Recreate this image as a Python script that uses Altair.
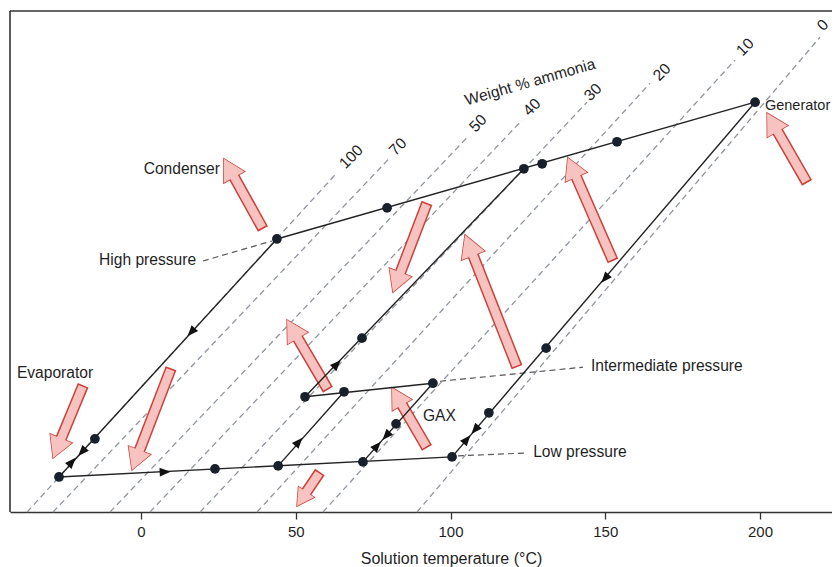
import math
import altair as alt
import pandas as pd

# ---------------- plot geometry (scales) ----------------
T_MIN, T_MAX = -42.33, 223.26      # solution temperature, deg C
U_MIN, U_MAX = 0.0, 100.0          # relative pressure level (no scale shown)
W, H = 822, 501
PXT = W / (T_MAX - T_MIN)
PXU = H / (U_MAX - U_MIN)

# ---------------- data ----------------
# iso-concentration lines (weight % ammonia): bottom start (u=0) -> top end
conc_labels = ["100", "70", "50", "40", "30", "20", "10", "0"]
conc_t0 = [-36.8, -28.4, -10.0, 2.9, 19.1, 37.5, 58.8, 89.2]
conc_u0 = [0, 0, 0, 0, 0, 0, 0, 0]
conc_t1 = [63.3, 79.8, 105.3, 123.1, 144.1, 164.5, 191.9, 219.4]
conc_u1 = [67.7, 70.3, 74.7, 78.2, 81.8, 85.6, 90.2, 94.8]
conc_lab_t = [67.9, 83.0, 108.9, 126.3, 146.0, 168.3, 195.2, 220.3]
conc_lab_u = [70.9, 72.9, 77.6, 80.8, 83.8, 87.8, 92.8, 97.2]

# cycle segments (start -> end)
seg_names = ["high", "refrig", "low", "inter", "abs1", "strong", "mid", "weak"]
seg_t0 = [43.9, 43.9, -26.5, 53.0, 44.3, 53.0, 71.7, 198.4]
seg_u0 = [54.5, 54.5, 7.0, 23.0, 9.2, 23.0, 10.0, 81.8]
seg_t1 = [198.4, -26.5, 100.5, 94.3, 65.6, 123.7, 94.3, 100.5]
seg_u1 = [81.8, 7.0, 11.0, 25.7, 24.0, 68.5, 25.7, 11.0]

# state points
pts_t = [43.9, 79.5, 123.7, 129.6, 153.8, 198.4, -14.9, -26.5, 23.9, 44.3,
         71.7, 100.5, 53.0, 65.6, 94.3, 71.4, 82.4, 130.9, 112.4]
pts_u = [54.5, 60.7, 68.5, 69.5, 73.9, 81.8, 14.6, 7.0, 8.6, 9.2,
         10.0, 11.0, 23.0, 24.0, 25.7, 34.7, 17.6, 32.7, 19.8]

# flow-direction markers: position, segment, +1 along segment / -1 against
dir_t = [16.2, -19.1, -22.3, 7.8, 51.0, 63.3, 79.2, 76.3, 149.9, 107.9, 105.3]
dir_u = [35.9, 12.0, 10.0, 8.0, 14.0, 29.5, 15.2, 13.2, 46.6, 16.4, 14.5]
dir_seg = ["refrig", "refrig", "refrig", "low", "abs1", "strong", "mid", "mid",
           "weak", "weak", "weak"]
dir_sign = [1, 1, -1, 1, 1, 1, -1, 1, 1, 1, -1]

# heat-flow block arrows: tail -> tip
arr_tail_t = [39.4, 92.4, 121.5, 152.5, 215.2, 60.4, 92.4, 57.8, -18.7, 9.7]
arr_tail_u = [56.5, 61.7, 28.9, 50.1, 65.7, 24.4, 12.8, 8.0, 25.3, 28.7]
arr_tip_t = [26.8, 81.4, 104.7, 137.9, 202.3, 47.2, 81.1, 50.4, -28.4, -2.9]
arr_tip_u = [70.5, 43.9, 55.3, 70.7, 79.6, 38.3, 24.8, 1.2, 10.8, 8.4]

# dashed leader lines to pressure labels
lead_t0 = [20.0, 96.6, 102.4]
lead_u0 = [50.1, 26.1, 11.2]
lead_t1 = [42.3, 142.8, 125.0]
lead_u1 = [54.1, 28.9, 11.8]

# text labels
left_text = ["Evaporator", "GAX", "Intermediate pressure", "Low pressure"]
left_t = [-40.1, 91.1, 145.4, 126.7]
left_u = [27.8, 19.2, 29.1, 12.0]
gen_text = ["Generator"]
gen_t = [201.6]
gen_u = [81.0]
right_text = ["Condenser", "High pressure"]
right_t = [25.5, 17.8]
right_u = [68.5, 50.3]
axis_ticks = [0, 50, 100, 150, 200]

# ---------------- styles ----------------
FONT = "Liberation Sans"
TXT = "#1f1f1f"
LINE = "#222222"
DOT = "#17202b"
GRID = "#8f969f"
RED = "#cf3f39"
PINK = "#f6c3c1"
LAB_FS = 15.6
HEAD_L = 21.0
head_scale = [1, 1, 1.05, 1, 1, 1, 0.95, 0.8, 1, 1]

xs = alt.Scale(domain=[T_MIN, T_MAX], nice=False, zero=False)
ys = alt.Scale(domain=[U_MIN, U_MAX], nice=False, zero=False)
xaxis = alt.Axis(values=axis_ticks, title="Solution temperature (°C)", grid=False,
                 labelFont=FONT, labelFontSize=15, labelColor=TXT, labelPadding=5,
                 labelFlush=False, tickColor="#333", tickSize=7, tickWidth=1.3,
                 domainColor="#333", domainWidth=1.6, titleFont=FONT, titleFontSize=16,
                 titleFontWeight="normal", titleColor=TXT, titleX=441, titleY=38)


def X(f="t"):
    return alt.X(f"{f}:Q", scale=xs, axis=xaxis)


def Y(f="u"):
    return alt.Y(f"{f}:Q", scale=ys, axis=None)


def ang(dt, du):
    return math.degrees(math.atan2(dt * PXT, du * PXU)) % 360


# ---------------- frames ----------------
frame_df = pd.DataFrame({"t": [T_MIN, T_MIN], "u": [U_MAX, U_MIN],
                         "t2": [T_MAX, T_MIN], "u2": [U_MAX, U_MAX]})
frame = alt.Chart(frame_df).mark_rule(color="#333", strokeWidth=1.6).encode(
    x=X(), y=Y(), x2="t2:Q", y2="u2:Q")

conc_df = pd.DataFrame({"t": conc_t0, "u": conc_u0, "t2": conc_t1, "u2": conc_u1})
conc = alt.Chart(conc_df).mark_rule(color=GRID, strokeWidth=1.3, strokeDash=[6, 4]).encode(
    x=X(), y=Y(), x2="t2:Q", y2="u2:Q")

conc_lab_df = pd.DataFrame({"t": conc_lab_t, "u": conc_lab_u, "txt": conc_labels})
conc_lab = alt.Chart(conc_lab_df).mark_text(font=FONT, fontSize=LAB_FS, color=TXT, angle=315,
                                             align="center", baseline="middle").encode(
    x=X(), y=Y(), text="txt:N")

wt_df = pd.DataFrame({"t": [125.7], "u": [85.8], "txt": ["Weight % ammonia"]})
wt = alt.Chart(wt_df).mark_text(font=FONT, fontSize=LAB_FS, color=TXT, angle=344,
                                align="center", baseline="middle").encode(
    x=X(), y=Y(), text="txt:N")

lead_df = pd.DataFrame({"t": lead_t0, "u": lead_u0, "t2": lead_t1, "u2": lead_u1})
lead = alt.Chart(lead_df).mark_rule(color="#555", strokeWidth=1.2, strokeDash=[6, 4]).encode(
    x=X(), y=Y(), x2="t2:Q", y2="u2:Q")

seg_df = pd.DataFrame({"t": seg_t0, "u": seg_u0, "t2": seg_t1, "u2": seg_u1})
segs = alt.Chart(seg_df).mark_rule(color=LINE, strokeWidth=1.4).encode(
    x=X(), y=Y(), x2="t2:Q", y2="u2:Q")

pts_df = pd.DataFrame({"t": pts_t, "u": pts_u})
pts = alt.Chart(pts_df).mark_circle(size=95, color=DOT, opacity=1).encode(x=X(), y=Y())

seg_idx = {n: i for i, n in enumerate(seg_names)}
dir_ang = []
for s, sg in zip(dir_seg, dir_sign):
    i = seg_idx[s]
    dir_ang.append(ang(sg * (seg_t1[i] - seg_t0[i]), sg * (seg_u1[i] - seg_u0[i])))
dir_df = pd.DataFrame({"t": dir_t, "u": dir_u, "a": dir_ang})
dirs = alt.Chart(dir_df).mark_point(shape="M0,-1L0.8,1L-0.8,1Z", filled=True, color="#111",
                                    size=120, opacity=1).encode(
    x=X(), y=Y(), angle=alt.Angle("a:Q", scale=None))

# block arrows built from tail/tip through the scales
rows = []
for i in range(len(arr_tail_t)):
    dt = arr_tip_t[i] - arr_tail_t[i]
    du = arr_tip_u[i] - arr_tail_u[i]
    dx, dy = dt * PXT, du * PXU
    L = math.hypot(dx, dy)
    ux, uy = dx / L / PXT, dy / L / PXU          # data units per pixel along arrow
    hl = HEAD_L * head_scale[i]
    rows.append({
        "t": arr_tail_t[i], "u": arr_tail_u[i],
        "ti": arr_tail_t[i] + 1.6 * ux, "ui": arr_tail_u[i] + 1.6 * uy,
        "te": arr_tip_t[i] - (hl - 3) * ux, "ue": arr_tip_u[i] - (hl - 3) * uy,
        "th": arr_tip_t[i] - hl / 2 * ux, "uh": arr_tip_u[i] - hl / 2 * uy,
        "a": ang(dt, du), "s": hl * hl,
    })
arr_df = pd.DataFrame(rows)
HEAD = "M0,-1L1.12,1L-1.12,1Z"
head_out = alt.Chart(arr_df).mark_point(shape=HEAD, filled=True, fill=PINK, stroke=RED,
                                        strokeWidth=1.5, opacity=1).encode(
    x=X("th"), y=Y("uh"), angle=alt.Angle("a:Q", scale=None), size=alt.Size("s:Q", scale=None))
shaft_out = alt.Chart(arr_df).mark_rule(color=RED, strokeWidth=11.5).encode(
    x=X("t"), y=Y("u"), x2="te:Q", y2="ue:Q")
head_in = alt.Chart(arr_df).mark_point(shape=HEAD, filled=True, fill=PINK, strokeWidth=0,
                                       opacity=1).encode(
    x=X("th"), y=Y("uh"), angle=alt.Angle("a:Q", scale=None), size=alt.Size("s:Q", scale=None))
shaft_in = alt.Chart(arr_df).mark_rule(color=PINK, strokeWidth=8.5).encode(
    x=X("ti"), y=Y("ui"), x2="te:Q", y2="ue:Q")

left_df = pd.DataFrame({"t": left_t, "u": left_u, "txt": left_text})
left_lab = alt.Chart(left_df).mark_text(font=FONT, fontSize=LAB_FS, color=TXT, align="left",
                                        baseline="middle").encode(x=X(), y=Y(), text="txt:N")
gen_df = pd.DataFrame({"t": gen_t, "u": gen_u, "txt": gen_text})
gen_lab = alt.Chart(gen_df).mark_text(font=FONT, fontSize=14.5, color=TXT, align="left",
                                      baseline="middle").encode(x=X(), y=Y(), text="txt:N")
right_df = pd.DataFrame({"t": right_t, "u": right_u, "txt": right_text})
right_lab = alt.Chart(right_df).mark_text(font=FONT, fontSize=LAB_FS, color=TXT, align="right",
                                          baseline="middle").encode(x=X(), y=Y(), text="txt:N")

chart = alt.layer(
    frame, conc, conc_lab, wt, lead, head_out, shaft_out, head_in, shaft_in,
    segs, pts, dirs, left_lab, gen_lab, right_lab
).properties(
    width=W, height=H,
    autosize=alt.AutoSizeParams(type="none"),
    padding={"left": 2, "top": 3, "right": 0, "bottom": 56},
    background="white",
).configure_view(stroke=None)

chart.save("out.html", embed_options={"renderer": "svg", "actions": False})
